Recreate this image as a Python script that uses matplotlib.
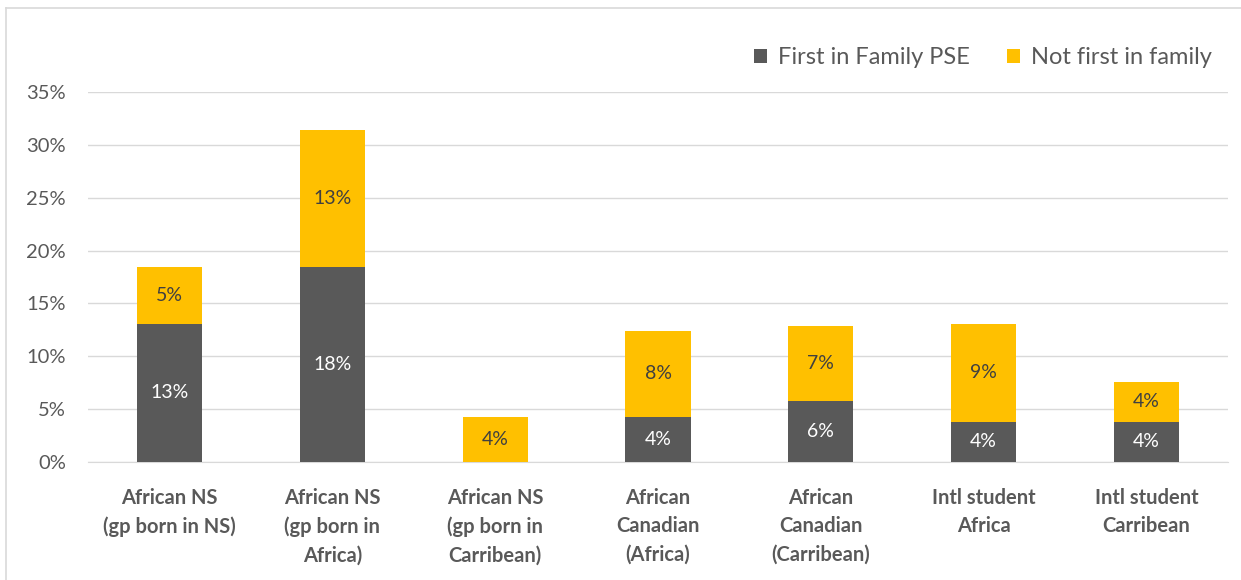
import matplotlib
matplotlib.use("Agg")
import matplotlib.pyplot as plt
from matplotlib.lines import Line2D
import numpy as np

categories = [
    "African NS\n(gp born in NS)",
    "African NS\n(gp born in\nAfrica)",
    "African NS\n(gp born in\nCarribean)",
    "African\nCanadian\n(Africa)",
    "African\nCanadian\n(Carribean)",
    "Intl student\nAfrica",
    "Intl student\nCarribean",
]
first_in_family = [13.1, 18.4, 0.0, 4.3, 5.8, 3.8, 3.8]
not_first = [5.3, 13.0, 4.3, 8.1, 7.1, 9.3, 3.8]
series_names = ["First in Family PSE", "Not first in family"]
yticks = [0, 5, 10, 15, 20, 25, 30, 35]

DARK = "#595959"
YELLOW = "#FFC000"
TXT = "#595959"
FONT = ["Lato", "DejaVu Sans"]
plt.rcParams["font.family"] = FONT

W, H = 1241, 580
fig = plt.figure(figsize=(W / 100, H / 100), dpi=100)
ax = fig.add_axes([88 / W, 1 - 462 / H, (1228 - 88) / W, (462 - 92) / H])

x = np.arange(len(categories))
b1 = ax.bar(x, first_in_family, width=0.4, color=DARK, zorder=3, label=series_names[0])
b2 = ax.bar(x, not_first, width=0.4, bottom=first_in_family, color=YELLOW, zorder=3,
            label=series_names[1])

for i, (a, b) in enumerate(zip(first_in_family, not_first)):
    if a > 0:
        ax.text(x[i], a / 2, f"{round(a):.0f}%", ha="center", va="center",
                color="white", fontsize=14)
    if b > 0:
        ax.text(x[i], a + b / 2, f"{round(b):.0f}%", ha="center", va="center",
                color="#404040", fontsize=14)

ax.set_xlim(-0.5, len(categories) - 0.5)
ax.set_ylim(0, 35)
ax.set_yticks(yticks)
ax.set_yticklabels([f"{t}%" for t in yticks], fontsize=14.5, color=TXT)
ax.set_xticks(x)
ax.set_xticklabels(categories, fontsize=14.5, color=TXT, fontweight="bold", linespacing=1.5)
ax.tick_params(axis="both", length=0)
ax.tick_params(axis="y", pad=16)
ax.tick_params(axis="x", pad=19)
ax.grid(axis="y", color="#D9D9D9", linewidth=1, zorder=0)
for s in ["top", "right", "left"]:
    ax.spines[s].set_visible(False)
ax.spines["bottom"].set_color("#D9D9D9")

fig.legend(handles=[b1, b2], labels=series_names, loc="center right",
           bbox_to_anchor=(1233 / W, 1 - 58 / H), ncol=2, frameon=False,
           fontsize=17, labelcolor=TXT, handlelength=0.55, handleheight=0.55,
           columnspacing=1.6, handletextpad=0.45)

# outer chart border
fig.add_artist(Line2D([5.5 / W, 5.5 / W], [0, 1 - 7.5 / H], color="#D9D9D9", lw=1.2,
                      transform=fig.transFigure))
fig.add_artist(Line2D([5.5 / W, 1], [1 - 7.5 / H, 1 - 7.5 / H], color="#D9D9D9", lw=1.2,
                      transform=fig.transFigure))

fig.savefig("out.png", dpi=100)
